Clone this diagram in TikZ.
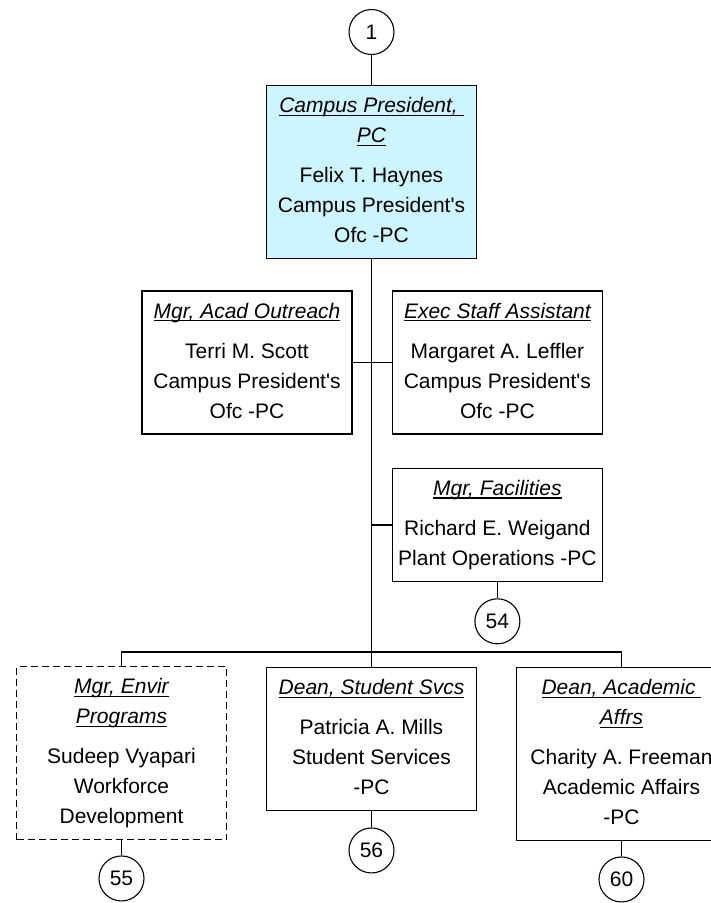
\documentclass[tikz,border=0pt]{standalone}
\usepackage{fontspec}
\setmainfont{Liberation Sans}
\usetikzlibrary{positioning}
\definecolor{prescyan}{RGB}{204,245,255}
\newsavebox\ttlbox
\newcommand{\ttl}[1]{\sbox\ttlbox{\itshape #1}\strut\rlap{\rule[-3.2pt]{\wd\ttlbox}{1.3pt}}\usebox\ttlbox}
\newcommand{\q}{\textquotesingle}

\begin{document}
\begin{tikzpicture}[
  box/.style    = {draw, line width=1.4pt, minimum width=210pt,
                   inner xsep=2pt, inner ysep=6pt, align=center,
                   font=\fontsize{21}{30}\selectfont,
                   execute at end node={\rule[-10pt]{0pt}{1pt}}},
  head/.style   = {box, fill=prescyan},
  vacant/.style = {box, dash pattern=on 7pt off 4pt},
  num/.style    = {draw, circle, line width=1.1pt, minimum size=45pt,
                   inner sep=0pt, font=\fontsize{21}{25}\selectfont},
  link/.style   = {line width=1.4pt},
]
\useasboundingbox (0pt,0pt) rectangle (711pt,-903pt);
\clip (0pt,0pt) rectangle (711pt,-903pt);
\node[num] at (371.5pt,-32pt)                      (c1)       {1};
\node[head,   below=30pt of c1]                    (pres)     {\ttl{Campus President,\ }\\ \ttl{PC}\\[10pt] Felix T. Haynes\\ Campus President\q s\\ Ofc -PC};
\node[box,    below=31pt of pres, xshift=-124.5pt] (outreach) {\ttl{Mgr, Acad Outreach}\\[10pt] Terri M. Scott\\ Campus President\q s\\ Ofc -PC};
\node[box,    right=39pt of outreach]              (exec)     {\ttl{Exec Staff Assistant}\\[10pt] Margaret A. Leffler\\ Campus President\q s\\ Ofc -PC};
\node[box,    below=33pt of exec]                  (fac)      {\ttl{Mgr, Facilities}\\[10pt] Richard E. Weigand\\ Plant Operations -PC};
\node[num,    below=16pt of fac]                   (c54)      {54};
\coordinate (bus) at (371.5pt,-652pt);
\node[box,    below=15pt of bus]                   (student)  {\ttl{Dean, Student Svcs}\\[10pt] Patricia A. Mills\\ Student Services\\ -PC};
\node[vacant, below=14pt of bus, xshift=-250pt]    (envir)    {\ttl{Mgr, Envir}\\ \ttl{Programs}\\[10pt] Sudeep Vyapari\\ Workforce\\ Development};
\node[box,    below=15pt of bus, xshift=250pt]     (academic) {\ttl{Dean, Academic\ }\\ \ttl{Affrs}\\[10pt] Charity A. Freeman\\ Academic Affairs\\ -PC};
\node[num,    below=15pt of envir]                 (c55)      {55};
\node[num,    below=16pt of student]               (c56)      {56};
\node[num,    below=15pt of academic]              (c60)      {60};
\draw[link] (c1)             -- (pres);
\draw[link] (pres)           -- (bus) -- (student);
\draw[link] (outreach.east)  -- (exec.west);
\draw[link] (fac.west)       -- (fac.west -| bus);
\draw[link] (fac)            -- (c54);
\draw[link] (envir.north)    |- (bus) -| (academic.north);
\draw[link] (envir)          -- (c55);
\draw[link] (student)        -- (c56);
\draw[link] (academic)       -- (c60);
\end{tikzpicture}
\end{document}
